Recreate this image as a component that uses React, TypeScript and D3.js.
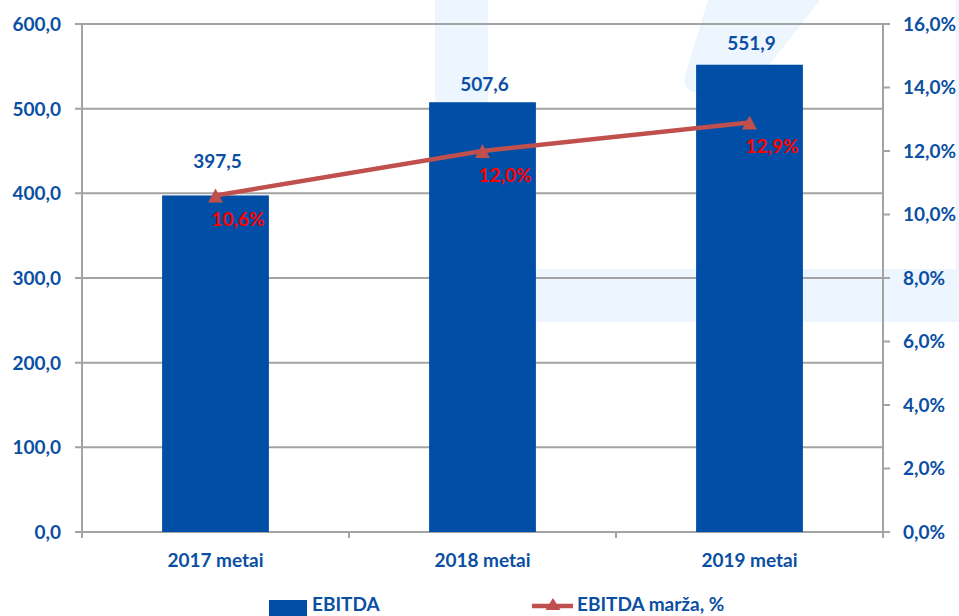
import React from "react";
import * as d3 from "d3";

const categories = ["2017 metai", "2018 metai", "2019 metai"];
const ebitda = [397.5, 507.6, 551.9];
const margin = [10.6, 12.0, 12.9];
const leftTicks = [0, 100, 200, 300, 400, 500, 600];
const rightTicks = [0, 2, 4, 6, 8, 10, 12, 14, 16];
const legendLabels = ["EBITDA", "EBITDA marža, %"];

// layout (style) settings
const valueLabelLift = [27, 11, 15];
const W = 959, H = 616;
const plot = { left: 82, right: 883, top: 24, bottom: 532 };
const BLUE_TEXT = "#0A4FA3";
const BAR = "#004EA6";
const LINE = "#C0504D";
const GRID = "#A3A3A3";
const WM = "#EDF5FE";
const FONT = "Lato, 'Noto Sans', sans-serif";

const fmt = (v: number, d = 1) => v.toFixed(d).replace(".", ",");

export default function App() {
  const xb = d3.scaleBand<string>().domain(categories).range([plot.left, plot.right]);
  const yL = d3.scaleLinear().domain([0, 600]).range([plot.bottom, plot.top]);
  const yR = d3.scaleLinear().domain([0, 16]).range([plot.bottom, plot.top]);
  const cx = (c: string) => (xb(c) as number) + xb.bandwidth() / 2;
  const bw = xb.bandwidth() * 0.4;

  const linePts: [number, number][] = categories.map((c, i) => [cx(c), yR(margin[i])]);
  const lineGen = d3.line();
  const tri = (px: number, py: number, hw = 7.5, hh = 7) =>
    `M${px},${py - hh}L${px + hw},${py + hh}L${px - hw},${py + hh}Z`;

  const boundaries = [...categories.map((c) => xb(c) as number), plot.right];

  return (
    <div style={{ position: "absolute", left: 0, top: 0 }}>
      <svg width={W} height={H} style={{ display: "block", background: "#fff" }} fontFamily={FONT}>
        {/* watermark */}
        <g fill={WM}>
          <rect x={435} y={0} width={53} height={322} />
          <rect x={435} y={269} width={524} height={53} />
          <rect x={956} y={0} width={3} height={269} />
          <path d="M708,0L820,0L748,92L692,92Q682,86 685,76Z" />
        </g>
        {/* gridlines */}
        {leftTicks.map((t) => (
          <line key={"g" + t} x1={plot.left - 7} x2={plot.right} y1={yL(t)} y2={yL(t)} stroke={GRID} strokeWidth={2} />
        ))}
        {/* axes */}
        <line x1={plot.left} x2={plot.left} y1={plot.top} y2={plot.bottom + 6} stroke={GRID} strokeWidth={2} />
        <line x1={plot.right} x2={plot.right} y1={plot.top} y2={plot.bottom + 6} stroke={GRID} strokeWidth={2} />
        {rightTicks.map((t) => (
          <line key={"rt" + t} x1={plot.right} x2={plot.right + 7} y1={yR(t)} y2={yR(t)} stroke={GRID} strokeWidth={2} />
        ))}
        {boundaries.map((b, i) => (
          <line key={"xt" + i} x1={b} x2={b} y1={plot.bottom} y2={plot.bottom + 6} stroke={GRID} strokeWidth={2} />
        ))}
        {/* bars */}
        {categories.map((c, i) => (
          <rect key={c} x={cx(c) - bw / 2} y={yL(ebitda[i])} width={bw} height={yL(0) - yL(ebitda[i])} fill={BAR} />
        ))}
        {/* left tick labels */}
        {leftTicks.map((t) => (
          <text key={"lt" + t} x={61} y={yL(t)} dy="0.36em" textAnchor="end" fill={BLUE_TEXT} fontWeight={700} fontSize={19}>
            {fmt(t)}
          </text>
        ))}
        {rightTicks.map((t) => (
          <text key={"rl" + t} x={903} y={yR(t)} dy="0.36em" textAnchor="start" fill={BLUE_TEXT} fontWeight={700} fontSize={19}>
            {fmt(t) + "%"}
          </text>
        ))}
        {/* category labels */}
        {categories.map((c) => (
          <text key={"c" + c} x={cx(c)} y={567} textAnchor="middle" fill={BLUE_TEXT} fontWeight={700} fontSize={19}>
            {c}
          </text>
        ))}
        {/* bar value labels */}
        {categories.map((c, i) => (
          <text key={"v" + c} x={cx(c) + 2} y={yL(ebitda[i]) - valueLabelLift[i]} textAnchor="middle" fill={BLUE_TEXT} fontWeight={700} fontSize={19}>
            {fmt(ebitda[i])}
          </text>
        ))}
        {/* line */}
        <path d={lineGen(linePts) as string} fill="none" stroke={LINE} strokeWidth={4.5} />
        {linePts.map(([px, py], i) => (
          <path key={"m" + i} d={tri(px, py)} fill={LINE} />
        ))}
        {linePts.map(([px, py], i) => (
          <text key={"p" + i} x={px - 4} y={py + 31} textAnchor="start" fill="#FF0000" fontWeight={700} fontSize={19}>
            {fmt(margin[i]) + "%"}
          </text>
        ))}
        {/* legend */}
        <rect x={269} y={600} width={38} height={16} fill={BAR} />
        <text x={312} y={611} fill={BLUE_TEXT} fontWeight={700} fontSize={19}>{legendLabels[0]}</text>
        <line x1={532} x2={573} y1={606} y2={606} stroke={LINE} strokeWidth={4.5} />
        <path d={tri(553, 604, 7.5, 6)} fill={LINE} />
        <text x={577} y={611} fill={BLUE_TEXT} fontWeight={700} fontSize={19}>{legendLabels[1]}</text>
      </svg>
    </div>
  );
}
